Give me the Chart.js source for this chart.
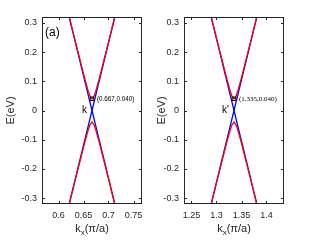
<!DOCTYPE html>
<html>
<head>
<meta charset="utf-8">
<script src="https://cdn.jsdelivr.net/npm/chart.js@4"></script>
<style>
  body { margin: 0; background: #fff; }
  #wrap { position: relative; width: 314px; height: 241px; }
  canvas { position: absolute; top: 0; }
</style>
</head>
<body>
<div id="wrap">
  <canvas id="panelA" width="150" height="241" style="left:0px"></canvas>
  <canvas id="panelB" width="164" height="241" style="left:150px"></canvas>
</div>
<script>
// k points (pi/a) around each valley
const kA = [0.617, 0.632, 0.642, 0.652, 0.659, 0.663, 0.667, 0.671, 0.675, 0.682, 0.692, 0.702, 0.717];
const kB = [1.285, 1.300, 1.310, 1.320, 1.327, 1.331, 1.335, 1.339, 1.343, 1.350, 1.360, 1.370, 1.385];
// energies (eV): gapped bands (red), gapless bands (blue)
const eRedUp    = [0.352, 0.248, 0.180, 0.112, 0.069, 0.049, 0.040, 0.049, 0.069, 0.112, 0.180, 0.248, 0.352];
const eRedDown  = [-0.352, -0.248, -0.180, -0.112, -0.069, -0.049, -0.040, -0.049, -0.069, -0.112, -0.180, -0.248, -0.352];
const eBlueUp   = [0.350, 0.245, 0.175, 0.105, 0.056, 0.028, 0, 0.028, 0.056, 0.105, 0.175, 0.245, 0.350];
const eBlueDown = [-0.350, -0.245, -0.175, -0.105, -0.056, -0.028, 0, -0.028, -0.056, -0.105, -0.175, -0.245, -0.350];
// marked gap points
const markA = [0.667, 0.040];
const markB = [1.335, 0.040];
// axes
const xTicksA = [0.6, 0.65, 0.7, 0.75];
const xTicksB = [1.25, 1.3, 1.35, 1.4];
const yTicks = [-0.3, -0.2, -0.1, 0, 0.1, 0.2, 0.3];
const xRangeA = [0.567, 0.767];
const xRangeB = [1.235, 1.435];
const yRange = [-0.32, 0.32];

const INK = '#262626';
const SANS = 'Liberation Sans, Arial, sans-serif';

function pts(k, e) { return k.map((v, i) => ({ x: v, y: e[i] })); }

function fmt(v) { return String(v); }

const framePlugin = {
  id: 'frame',
  afterDatasetsDraw(chart, args, o) {
    const c = chart.ctx, a = chart.chartArea;
    const xs = chart.scales.x, ys = chart.scales.y;
    c.save();
    c.strokeStyle = INK;
    c.lineWidth = 1;
    c.strokeRect(Math.round(a.left) + 0.5, Math.round(a.top) + 0.5,
                 Math.round(a.right - a.left) - 1, Math.round(a.bottom - a.top) - 1);
    c.beginPath();
    o.xTicks.forEach(v => {
      const px = Math.round(xs.getPixelForValue(v)) + 0.5;
      c.moveTo(px, a.bottom); c.lineTo(px, a.bottom - 3);
      c.moveTo(px, a.top); c.lineTo(px, a.top + 3);
    });
    yTicks.forEach(v => {
      const py = Math.round(ys.getPixelForValue(v)) + 0.5;
      c.moveTo(a.left, py); c.lineTo(a.left + 3, py);
      c.moveTo(a.right, py); c.lineTo(a.right - 3, py);
    });
    c.stroke();

    // marker label and valley name
    const mx = xs.getPixelForValue(o.mark[0]), my = ys.getPixelForValue(o.mark[1]);
    c.fillStyle = '#000';
    c.textBaseline = 'middle';
    c.textAlign = 'left';
    c.font = o.markFont;
    c.fillText('(' + o.mark[0].toFixed(3) + ',' + o.mark[1].toFixed(3) + ')', mx + 5, my);
    c.font = '10px ' + SANS;
    c.textAlign = 'right';
    c.fillText(o.valley, mx - 5, ys.getPixelForValue(0));
    if (o.tag) {
      c.textAlign = 'left';
      c.font = '12px ' + SANS;
      c.fillText(o.tag, a.left + 3, a.top + 16);
    }

    // x title with subscript
    c.fillStyle = INK;
    c.textBaseline = 'alphabetic';
    c.textAlign = 'left';
    const big = '11px ' + SANS, small = '8px ' + SANS;
    c.font = big; const w1 = c.measureText('k').width, w3 = c.measureText('(\u03c0/a)').width;
    c.font = small; const w2 = c.measureText('x').width;
    let x0 = (a.left + a.right) / 2 - (w1 + w2 + w3) / 2;
    const base = 232;
    c.font = big; c.fillText('k', x0, base);
    c.font = small; c.fillText('x', x0 + w1, base + 3);
    c.font = big; c.fillText('(\u03c0/a)', x0 + w1 + w2, base);

    // y title
    c.translate(o.yTitleX, (a.top + a.bottom) / 2);
    c.rotate(-Math.PI / 2);
    c.textAlign = 'center';
    c.textBaseline = 'middle';
    c.font = big;
    c.fillText('E(eV)', 0, 0);
    c.restore();
  }
};

function panel(id, k, mark, xTicks, xRange, yWidth, rightPad, opts) {
  new Chart(document.getElementById(id), {
    type: 'scatter',
    data: {
      datasets: [
        { data: [{ x: mark[0], y: mark[1] }], pointStyle: 'rect', pointRadius: 2.5,
          borderColor: '#000', borderWidth: 1, backgroundColor: 'rgba(0,0,0,0)' },
        { data: pts(k, eRedUp), showLine: true, borderColor: '#ff0000', borderWidth: 1.3, pointRadius: 0 },
        { data: pts(k, eRedDown), showLine: true, borderColor: '#ff0000', borderWidth: 1.3, pointRadius: 0 },
        { data: pts(k, eBlueUp), showLine: true, borderColor: '#0000ff', borderWidth: 1.3, pointRadius: 0 },
        { data: pts(k, eBlueDown), showLine: true, borderColor: '#0000ff', borderWidth: 1.3, pointRadius: 0 }
      ]
    },
    options: {
      responsive: false,
      animation: false,
      layout: { padding: { top: 17, right: rightPad, left: 0, bottom: 0 } },
      plugins: {
        legend: { display: false },
        tooltip: { enabled: false },
        frame: Object.assign({ xTicks: xTicks, mark: mark }, opts)
      },
      scales: {
        x: {
          type: 'linear', min: xRange[0], max: xRange[1],
          grid: { display: false, drawTicks: false }, border: { display: false },
          afterBuildTicks: s => { s.ticks = xTicks.map(v => ({ value: v })); },
          afterFit: s => { s.height = 37; },
          ticks: { padding: 6, color: INK, font: { size: 9, family: SANS }, callback: v => fmt(v), maxRotation: 0 }
        },
        y: {
          type: 'linear', min: yRange[0], max: yRange[1],
          grid: { display: false, drawTicks: false }, border: { display: false },
          afterBuildTicks: s => { s.ticks = yTicks.map(v => ({ value: v })); },
          afterFit: s => { s.width = yWidth; },
          ticks: { padding: 5, color: INK, font: { size: 9, family: SANS }, callback: v => fmt(v) }
        }
      }
    },
    plugins: [framePlugin]
  });
}

panel('panelA', kA, markA, xTicksA, xRangeA, 42, 8,
      { valley: 'k', markFont: '6.3px ' + SANS, tag: '(a)', yTitleX: 11 });
panel('panelB', kB, markB, xTicksB, xRangeB, 34, 30,
      { valley: "k'", markFont: '7px Liberation Serif, Times New Roman, serif', tag: '', yTitleX: 12 });
</script>
</body>
</html>
